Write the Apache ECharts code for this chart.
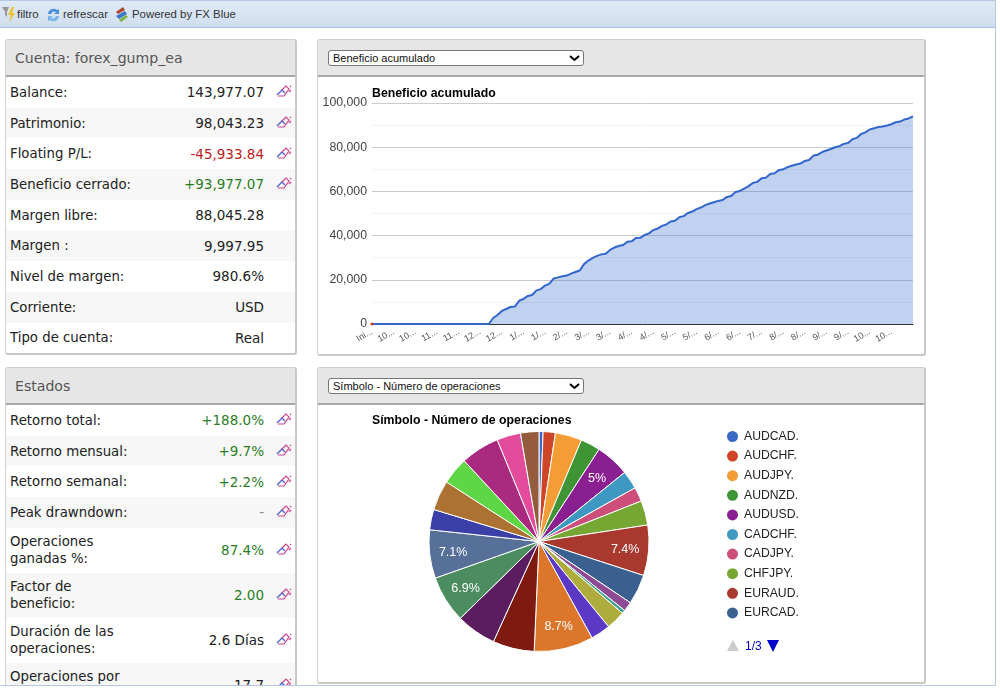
<!DOCTYPE html>
<html lang="es">
<head>
<meta charset="UTF-8">
<title>Cuenta: forex_gump_ea</title>
<script src="https://cdn.jsdelivr.net/npm/echarts@6/dist/echarts.min.js"></script>
<style>
* { margin: 0; padding: 0; box-sizing: border-box; }
html, body { width: 1000px; height: 690px; overflow: hidden; background: #fff; }
#frame { position: absolute; left: 0; top: 0; width: 996px; height: 686px; border-right: 1px solid #b4c8e6; border-bottom: 1px solid #b4c8e6; overflow: hidden; }
#bar { position: absolute; left: 0; top: 0; width: 995px; height: 28px; background: linear-gradient(#e0eaf6, #cfdeef); border-top: 1px solid #b4c8e6; border-bottom: 1px solid #a9c0df; font: 11.4px "Liberation Sans", Arial, sans-serif; color: #333; }
#bar span { position: absolute; top: 6px; line-height: 15px; }
#bar svg { position: absolute; }
.panel { position: absolute; background: #fff; border: 1px solid #d0d0d0; border-right: 2px solid #c8c8c8; border-bottom: 2px solid #c8c8c8; border-radius: 3px; }
.head { position: absolute; left: 0; top: 0; right: 0; height: 37px; background: #e6e6e6; border-bottom: 2px solid #a8a8a8; font: 14.1px "DejaVu Sans", Verdana, sans-serif; color: #555; line-height: 36px; padding-left: 9px; }
.rows { position: absolute; left: 0; right: 0; top: 37px; font: 13.3px/17px "DejaVu Sans", Verdana, sans-serif; color: #222; }
.row { position: relative; display: flex; align-items: center; padding-left: 4px; }
.row:nth-child(even) { background: #f7f7f7; }
.row .val { position: absolute; right: 31px; top: 50%; transform: translateY(-50%); white-space: nowrap; font-size: 13.5px; }
.row svg { position: absolute; left: 270px; top: 50%; margin-top: -9px; }
.up { color: #2a7d1f; }
.down { color: #bb2020; }
.muted { color: #888; }
select { position: absolute; left: 10px; top: 10px; width: 256px; height: 16px; appearance: none; -webkit-appearance: none; border: 1px solid #777; border-radius: 3px; padding-left: 4px; font: 11px "Liberation Sans", Arial, sans-serif; color: #111; background: #fff url("data:image/svg+xml,%3Csvg xmlns='http://www.w3.org/2000/svg' width='11' height='7'%3E%3Cpath d='M1 1l4.5 4 4.5-4' fill='none' stroke='%23000' stroke-width='2'/%3E%3C/svg%3E") no-repeat 240px 4px; }
.chart { position: absolute; }
#pager { position: absolute; left: 727px; top: 639px; height: 14px; font: 12px/14px "Liberation Sans", Arial, sans-serif; color: #0000cc; }
#pager i { position: absolute; top: 1px; width: 0; height: 0; border-left: 6px solid transparent; border-right: 6px solid transparent; }
#pager b { position: absolute; left: 18px; top: 0; font-weight: normal; }
</style>
</head>
<body>
<div id="frame">
    <div id="bar">
        <svg style="left:2px;top:5px" width="14" height="17" viewBox="0 0 14 17"><path d="M0 1h7L5 6v5L3 9V6z" fill="#999"/><path d="M10 1L6 9h3l-2 7 6-9h-3l2-6z" fill="#f0c020"/></svg>
        <span style="left:17px">filtro</span>
        <svg style="left:46px;top:5px" width="15" height="17" viewBox="0 0 15 17"><path d="M2 8a5.5 5.5 0 0 1 9-4l2-1v5H8l2-2a3.5 3.5 0 0 0-5 2z" fill="#4a90d9"/><path d="M13 10a5.5 5.5 0 0 1-9 4l-2 1v-5h5l-2 2a3.5 3.5 0 0 0 5-2z" fill="#7ab4e8"/></svg>
        <span style="left:63px">refrescar</span>
        <svg style="left:114px;top:5px" width="15" height="17" viewBox="0 0 15 17"><path d="M2 6l7-5 2 3-7 4z" fill="#b0442c"/><path d="M2 10l9-5 2 3-8 5z" fill="#3b78c4"/><path d="M5 14l7-5 2 2-7 5z" fill="#7cb342"/></svg>
        <span style="left:132px">Powered by FX Blue</span>
    </div>

    <div class="panel" style="left:5px;top:39px;width:292px;height:316px">
        <div class="head">Cuenta: forex_gump_ea</div>
        <div class="rows" id="accountRows"></div>
    </div>
    <div class="panel" style="left:5px;top:367px;width:292px;height:340px">
        <div class="head">Estados</div>
        <div class="rows" id="statRows"></div>
    </div>

    <div class="panel" style="left:317px;top:39px;width:609px;height:317px">
        <div class="head" style="padding:0"><select><option>Beneficio acumulado</option></select></div>
    </div>
    <div class="panel" style="left:317px;top:367px;width:609px;height:317px">
        <div class="head" style="padding:0"><select><option>Símbolo - Número de operaciones</option></select></div>
    </div>

    <div class="chart" id="lineChart" style="left:318px;top:78px;width:606px;height:276px"></div>
    <div class="chart" id="pieChart" style="left:318px;top:405px;width:606px;height:277px"></div>

    <div id="pager">
        <i style="left:0;border-bottom:11px solid #ccc"></i>
        <b>1/3</b>
        <i style="left:40px;border-top:12px solid #0000cc"></i>
    </div>
</div>

<script>
    var accountLabels = ['Balance:', 'Patrimonio:', 'Floating P/L:', 'Beneficio cerrado:', 'Margen libre:', 'Margen :', 'Nivel de margen:', 'Corriente:', 'Tipo de cuenta:'];
    var accountValues = ['143,977.07', '98,043.23', '-45,933.84', '+93,977.07', '88,045.28', '9,997.95', '980.6%', 'USD', 'Real'];
    var accountClass = ['', '', 'down', 'up', '', '', '', '', ''];
    var accountIcons = [1, 1, 1, 1, 0, 0, 0, 0, 0];

    var statLabels = ['Retorno total:', 'Retorno mensual:', 'Retorno semanal:', 'Peak drawndown:', 'Operaciones<br>ganadas %:', 'Factor de<br>beneficio:', 'Duración de las<br>operaciones:', 'Operaciones por<br>&nbsp;'];
    var statValues = ['+188.0%', '+9.7%', '+2.2%', '-', '87.4%', '2.00', '2.6 Días', '17.7'];
    var statClass = ['up', 'up', 'up', 'muted', 'up', 'up', '', ''];

    var tickLabels = ['Ini...', '10...', '10...', '11...', '11...', '12...', '12...', '1/...', '1/...', '2/...', '3/...', '3/...', '4/...', '4/...', '5/...', '5/...', '6/...', '6/...', '7/...', '8/...', '8/...', '9/...', '9/...', '10...', '10...'];
    var profit = [
        0, 0, 0, 0, 0, 0, 0, 0, 0, 0, 0, 0, 0, 0, 0, 0, 0, 0, 0, 0, 0, 0, 0, 0, 0, 0, 0,
        0, 2700, 4100, 5900, 6800, 7700, 7900, 10500, 11300, 12700, 13100, 15200, 15800, 17400, 18300, 20600, 21100, 21600, 21900, 22800, 23500, 24200,
        27100, 28700, 29900, 30800, 31500, 31800, 33500, 34600, 35300, 35700, 37200, 37400, 38900, 39000, 40300, 41000, 42500, 43200, 44400, 45000,
        46400, 46700, 48300, 48800, 50200, 50900, 52000, 52700, 53800, 54500, 55100, 55700, 56100, 57500, 57900, 59700, 60200, 61300, 62400, 63800,
        64300, 65900, 66200, 67900, 68200, 69600, 70000, 71000, 71600, 72200, 72600, 73800, 74200, 76200, 76600, 77800, 78500, 79200, 80000, 80500,
        81500, 81900, 83600, 84200, 86000, 86700, 88000, 88600, 89100, 89400, 89800, 90400, 91300, 91600, 92500, 93000, 93977
    ];
    var startPoint = [0];

    var symbols = ['AUDCAD.', 'AUDCHF.', 'AUDJPY.', 'AUDNZD.', 'AUDUSD.', 'CADCHF.', 'CADJPY.', 'CHFJPY.', 'EURAUD.', 'EURCAD.'];
    var tradeShare = [0.6, 1.8, 3.9, 2.9, 5, 2.7, 2.1, 3.6, 7.4, 4.4, 1.4, 0.5, 2.8, 2.9, 8.7, 6.1, 5.9, 6.9, 7.1, 3.0, 4.4, 4.0, 5.7, 3.5, 2.7];
    var labelledSlices = [4, 8, 14, 17, 18];
    var pieColors = ['#3b67c8', '#cf4527', '#f49d37', '#3f9535', '#8a1f92', '#3f98c2', '#cd4e79', '#77a733', '#a9382f', '#39608f', '#8f4a96', '#3aa18f', '#adac3c', '#5c39c4', '#dc762b', '#7e1a10', '#5c1c60', '#4b8d5f', '#567099', '#3b3fa8', '#ab7231', '#5fd646', '#a92a7f', '#e44b9c', '#945c3c'];

    var icon = '<svg width="16" height="16" viewBox="0 0 16 16"><path d="M1 12l5-5 3 3" fill="none" stroke="#4f63dd" stroke-width="1.4"/><path d="M2 13h6l5-7-3-3-4 4" fill="none" stroke="#d0458c" stroke-width="1.2"/><path d="M13 9l2-2M14 3l1 1" stroke="#d0458c" stroke-width="1.2"/></svg>';

    function buildRows(id, labels, values, classes, icons, heights) {
        var html = '';
        for (var i = 0; i < labels.length; i++) {
            html += '<div class="row" style="height:' + heights[i] + 'px"><span>' + labels[i] + '</span>' +
                '<span class="val ' + classes[i] + '">' + values[i] + '</span>' + (icons[i] ? icon : '') + '</div>';
        }
        document.getElementById(id).innerHTML = html;
    }
    buildRows('accountRows', accountLabels, accountValues, accountClass, accountIcons, [30.7, 30.7, 30.7, 30.7, 30.7, 30.7, 30.7, 30.7, 30.7]);
    buildRows('statRows', statLabels, statValues, statClass, [1, 1, 1, 1, 1, 1, 1, 1], [30.7, 30.7, 30.7, 30.7, 45, 45, 45, 45]);

    var categories = [];
    for (var i = 0; i < profit.length; i++) {
        categories.push(i % 5 === 0 && tickLabels[i / 5] ? tickLabels[i / 5] : '');
    }

    var lineChart = echarts.init(document.getElementById('lineChart'));
    lineChart.setOption({
        animation: false,
        title: {
            text: 'Beneficio acumulado',
            left: 54,
            top: 9.5,
            padding: 0,
            textStyle: { fontFamily: 'Liberation Sans', fontSize: 12.3, fontWeight: 'bold', color: '#000' }
        },
        grid: { left: 54, top: 25, width: 541, height: 221 },
        xAxis: {
            type: 'category',
            data: categories,
            boundaryGap: false,
            axisTick: { show: false },
            axisLine: { lineStyle: { color: '#333', width: 1 } },
            axisLabel: {
                interval: 4,
                rotate: 30,
                margin: 7,
                fontFamily: 'Liberation Sans',
                fontSize: 9,
                color: '#555',
                showMaxLabel: false
            }
        },
        yAxis: {
            type: 'value',
            min: 0,
            max: 100000,
            interval: 20000,
            axisLine: { show: false },
            axisTick: { show: false },
            axisLabel: {
                margin: 5,
                padding: [4, 0, 0, 0],
                fontFamily: 'Liberation Sans',
                fontSize: 12.3,
                color: '#444',
                formatter: function (v) { return v.toLocaleString('en-US'); }
            },
            splitLine: { lineStyle: { color: '#ccc', width: 1 } },
            minorTick: { show: false, splitNumber: 2 },
            minorSplitLine: { show: true, lineStyle: { color: '#f2f2f2', width: 1 } }
        },
        series: [
            {
                type: 'line',
                data: profit,
                showSymbol: false,
                lineStyle: { color: '#3366cc', width: 2 },
                areaStyle: { color: '#3366cc', opacity: 0.3 }
            },
            {
                type: 'line',
                data: startPoint,
                symbol: 'circle',
                symbolSize: 3,
                itemStyle: { color: '#dc3912' }
            }
        ]
    });

    var pieData = tradeShare.map(function (v, i) {
        return {
            value: v,
            name: symbols[i] || '',
            label: { show: labelledSlices.indexOf(i) >= 0 }
        };
    });

    var pieChart = echarts.init(document.getElementById('pieChart'));
    var pieCenter = [221, 136.5];
    pieChart.setOption({
        animation: false,
        color: pieColors,
        title: {
            text: 'Símbolo - Número de operaciones',
            left: 54,
            top: 10,
            padding: 0,
            textStyle: { fontFamily: 'Liberation Sans', fontSize: 12.3, fontWeight: 'bold', color: '#000' }
        },
        legend: {
            data: symbols,
            orient: 'vertical',
            left: 402,
            top: 19,
            icon: 'circle',
            itemWidth: 13,
            itemHeight: 13,
            itemGap: 4.6,
            selectedMode: false,
            textStyle: { fontFamily: 'Liberation Sans', fontSize: 12.2, color: '#222' }
        },
        series: [{
            type: 'pie',
            center: pieCenter,
            radius: [0, 110],
            startAngle: 90,
            clockwise: true,
            percentPrecision: 1,
            data: pieData,
            itemStyle: { borderColor: '#fff', borderWidth: 1 },
            label: {
                position: 'inside',
                formatter: '{d}%',
                color: '#fff',
                fontFamily: 'Liberation Sans',
                fontSize: 12.5
            },
            labelLine: { show: false },
            labelLayout: function (p) {
                var lx = p.labelRect.x + p.labelRect.width / 2;
                var ly = p.labelRect.y + p.labelRect.height / 2;
                return { x: pieCenter[0] + (lx - pieCenter[0]) * 1.49, y: pieCenter[1] + (ly - pieCenter[1]) * 1.49 + 1, align: 'center', verticalAlign: 'middle' };
            }
        }]
    });
</script>
</body>
</html>
